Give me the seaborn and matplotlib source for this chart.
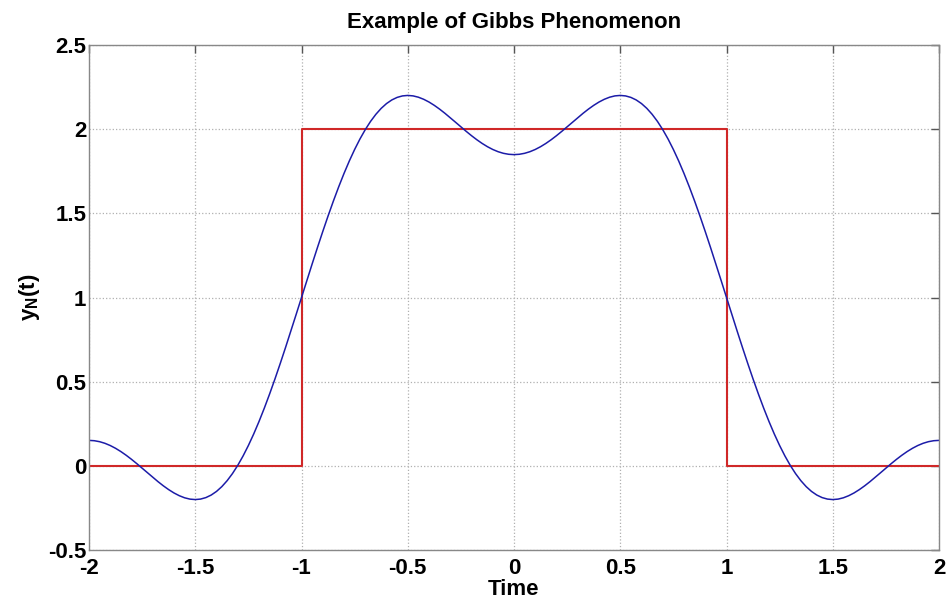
import matplotlib
matplotlib.use("Agg")
import matplotlib.pyplot as plt
import seaborn as sns
import pandas as pd

# Partial Fourier sum values (t from 0 to 2, step 0.025; curve is even in t)
t_half = [0.000, 0.025, 0.050, 0.075, 0.100, 0.125, 0.150, 0.175, 0.200, 0.225,
          0.250, 0.275, 0.300, 0.325, 0.350, 0.375, 0.400, 0.425, 0.450, 0.475,
          0.500, 0.525, 0.550, 0.575, 0.600, 0.625, 0.650, 0.675, 0.700, 0.725,
          0.750, 0.775, 0.800, 0.825, 0.850, 0.875, 0.900, 0.925, 0.950, 0.975,
          1.000, 1.025, 1.050, 1.075, 1.100, 1.125, 1.150, 1.175, 1.200, 1.225,
          1.250, 1.275, 1.300, 1.325, 1.350, 1.375, 1.400, 1.425, 1.450, 1.475,
          1.500, 1.525, 1.550, 1.575, 1.600, 1.625, 1.650, 1.675, 1.700, 1.725,
          1.750, 1.775, 1.800, 1.825, 1.850, 1.875, 1.900, 1.925, 1.950, 1.975,
          2.000]
y_half = [1.8488, 1.8508, 1.8566, 1.8662, 1.8794, 1.8959, 1.9153, 1.9373, 1.9614, 1.9871,
          2.0139, 2.0410, 2.0680, 2.0942, 2.1189, 2.1414, 2.1612, 2.1775, 2.1899, 2.1977,
          2.2004, 2.1975, 2.1887, 2.1736, 2.1520, 2.1236, 2.0883, 2.0462, 1.9972, 1.9415,
          1.8793, 1.8110, 1.7368, 1.6573, 1.5729, 1.4842, 1.3918, 1.2965, 1.1990, 1.0999,
          1.0000, 0.9001, 0.8010, 0.7035, 0.6082, 0.5158, 0.4271, 0.3427, 0.2632, 0.1890,
          0.1207, 0.0585, 0.0028, -0.0462, -0.0883, -0.1236, -0.1520, -0.1736, -0.1887, -0.1975,
          -0.2004, -0.1977, -0.1899, -0.1775, -0.1612, -0.1414, -0.1189, -0.0942, -0.0680, -0.0410,
          -0.0139, 0.0129, 0.0386, 0.0627, 0.0847, 0.1041, 0.1206, 0.1338, 0.1434, 0.1492,
          0.1512]

# Square pulse
sq_t = [-2, -1, -1, 1, 1, 2]
sq_y = [0, 0, 2, 2, 0, 0]

x_ticks = [-2, -1.5, -1, -0.5, 0, 0.5, 1, 1.5, 2]
x_tick_labels = ["-2", "-1.5", "-1", "-0.5", "0", "0.5", "1", "1.5", "2"]
y_ticks = [-0.5, 0, 0.5, 1, 1.5, 2, 2.5]
y_tick_labels = ["-0.5", "0", "0.5", "1", "1.5", "2", "2.5"]

t_full = [-v for v in t_half[::-1]] + t_half[1:]
y_full = y_half[::-1] + y_half[1:]

sns.set_style("white")
plt.rcParams['font.family'] = ['Liberation Sans', 'DejaVu Sans']
plt.rcParams['text.color'] = 'black'
plt.rcParams['axes.labelcolor'] = 'black'
plt.rcParams['xtick.color'] = 'black'
plt.rcParams['ytick.color'] = 'black'
plt.rcParams['mathtext.fontset'] = 'custom'
plt.rcParams['mathtext.bf'] = 'Liberation Sans:bold'
plt.rcParams['mathtext.rm'] = 'Liberation Sans'
plt.rcParams['mathtext.it'] = 'Liberation Sans:italic'

fig = plt.figure(figsize=(9.48, 6.03), dpi=100)
ax = fig.add_axes([89/948, 53/603, 850/948, 505/603])

df_sq = pd.DataFrame({"t": sq_t, "y": sq_y})
df_f = pd.DataFrame({"t": t_full, "y": y_full})

sns.lineplot(data=df_sq, x="t", y="y", ax=ax, sort=False, estimator=None,
             color="#d02828", linewidth=1.5)
sns.lineplot(data=df_f, x="t", y="y", ax=ax, sort=False, estimator=None,
             color="#1c1ca8", linewidth=1.1)

ax.set_xlim(-2, 2)
ax.set_ylim(-0.5, 2.5)
ax.set_xticks(x_ticks)
ax.set_xticklabels(x_tick_labels)
ax.set_yticks(y_ticks)
ax.set_yticklabels(y_tick_labels)
ax.grid(True, linestyle=':', color='#b0b0b0', linewidth=0.9)
ax.tick_params(direction='in', length=6, width=1, labelsize=16,
               top=True, right=True)
ax.tick_params(axis='x', pad=6)
ax.tick_params(axis='y', pad=2)
ax.tick_params(which='both', color='#555555')
for lab in ax.get_xticklabels() + ax.get_yticklabels():
    lab.set_fontweight('bold')
    lab.set_color('black')
for sp in ax.spines.values():
    sp.set_color('#888888')
    sp.set_linewidth(1.0)

ax.set_title("Example of Gibbs Phenomenon", fontsize=16, fontweight='bold', pad=12)
ax.set_xlabel("Time", fontsize=16, fontweight='bold', labelpad=0)
ax.set_ylabel(r"$\mathbf{y_N(t)}$", fontsize=16, labelpad=4)

fig.savefig("out.png", dpi=100)
